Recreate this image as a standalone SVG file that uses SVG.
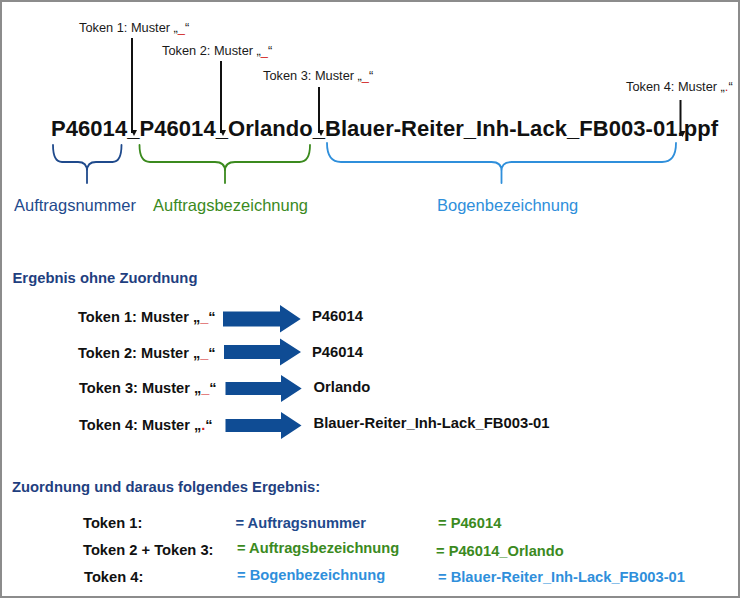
<svg xmlns="http://www.w3.org/2000/svg" width="742" height="600" viewBox="0 0 742 600">
<style>
  text { font-family: "Liberation Sans", Arial, sans-serif; }
  .lbl { font-size: 12.8px; fill: #1a1a1a; }
  .red { fill: #d02020; }
  .fn { font-size: 22px; font-weight: bold; fill: #111; }
  .cap { font-size: 16.5px; }
  .hdr { font-size: 14.8px; font-weight: bold; fill: #1f3f80; }
  .row { font-size: 14.6px; font-weight: bold; fill: #111; }
  .val { font-size: 14.8px; font-weight: bold; fill: #111; }
  .res { font-size: 14.7px; font-weight: bold; }
  .navy { fill: #1f4a8c; }
  .green { fill: #3b8a1e; }
  .lblue { fill: #2f8fdb; }
  .pin { stroke: #111; stroke-width: 2; fill: none; marker-end: url(#tip); }
  .brace { fill: none; stroke-width: 1.8; stroke-linecap: round; }
  .barrow { fill: #0f4c94; }
</style>
<defs>
  <marker id="tip" markerWidth="6" markerHeight="6" refX="3" refY="5" orient="auto-start-reverse" markerUnits="userSpaceOnUse" viewBox="0 0 6 6">
    <path d="M0,0 L6,0 L3,6 Z" fill="#111" transform="rotate(-90 3 3)"/>
  </marker>
  <clipPath id="frameclip"><rect x="0" y="0" width="738" height="600"/></clipPath>
</defs>
<rect x="0" y="0" width="742" height="600" fill="#ffffff"/>

<g id="content" clip-path="url(#frameclip)">
  <g id="filename">
    <text class="fn" x="51" y="136" textLength="667" lengthAdjust="spacing">P46014_P46014_Orlando_Blauer-Reiter_Inh-Lack_FB003-01.ppf</text>
  </g>

  <g id="token-labels">
    <text class="lbl" x="79" y="32">Token 1: Muster „<tspan class="red">_</tspan>“</text>
    <text class="lbl" x="162" y="55">Token 2: Muster „<tspan class="red">_</tspan>“</text>
    <text class="lbl" x="263" y="80">Token 3: Muster „<tspan class="red">_</tspan>“</text>
    <text class="lbl" x="626" y="91">Token 4: Muster „<tspan class="red">.</tspan>“</text>
  </g>

  <g id="connectors">
    <line class="pin" x1="132" y1="38" x2="132" y2="133"/>
    <line class="pin" x1="221" y1="61" x2="221" y2="133"/>
    <line class="pin" x1="319" y1="87" x2="319" y2="133"/>
    <line class="pin" x1="680.5" y1="100" x2="680.5" y2="134"/>
  </g>

  <g id="braces">
    <path class="brace" stroke="#1f4a8c" d="M53,145 Q53,162 62,162 H78 Q87,162 87,171 V183 M87,171 Q87,162 96,162 H112.5 Q121.5,162 121.5,145"/>
    <path class="brace" stroke="#3b8a1e" d="M139.5,145 Q139.5,162 150,162 H215 Q225,162 225,171 V183 M225,171 Q225,162 235,162 H299.5 Q310,162 310,145"/>
    <path class="brace" stroke="#2f8fdb" d="M327,143 Q327,162 341,162 H491.5 Q501.5,162 501.5,171 V183 M501.5,171 Q501.5,162 511.5,162 H662 Q676,162 676,143"/>
  </g>

  <g id="brace-labels">
    <text class="cap navy" x="14" y="211">Auftragsnummer</text>
    <text class="cap green" x="153" y="211">Auftragsbezeichnung</text>
    <text class="cap lblue" x="437" y="211">Bogenbezeichnung</text>
  </g>

  <g id="section-1">
    <text class="hdr" x="12.5" y="283">Ergebnis ohne Zuordnung</text>
    <g id="row1">
      <text class="row" x="78" y="321.7">Token 1: Muster „<tspan class="red">_</tspan>“</text>
      <path class="barrow" d="M223,311.5 H280 V305 L300.7,319 L280,332.5 V326.5 H223 Z"/>
      <text class="val" x="312" y="320.5">P46014</text>
    </g>
    <g id="row2">
      <text class="row" x="78" y="358">Token 2: Muster „<tspan class="red">_</tspan>“</text>
      <path class="barrow" d="M224,345 H280 V338.5 L301,352 L280,365.5 V359 H224 Z"/>
      <text class="val" x="312" y="356.7">P46014</text>
    </g>
    <g id="row3">
      <text class="row" x="79" y="393.3">Token 3: Muster „<tspan class="red">_</tspan>“</text>
      <path class="barrow" d="M225.5,382 H281 V375 L301.7,388.5 L281,402 V395 H225.5 Z"/>
      <text class="val" x="313.5" y="391.7">Orlando</text>
    </g>
    <g id="row4">
      <text class="row" x="79" y="430">Token 4: Muster „<tspan class="red">.</tspan>“</text>
      <path class="barrow" d="M225.5,419 H281 V412 L301.5,425.5 L281,439 V432 H225.5 Z"/>
      <text class="val" x="313.5" y="428.3">Blauer-Reiter_Inh-Lack_FB003-01</text>
    </g>
  </g>

  <g id="section-2">
    <text class="hdr" x="12" y="491.7">Zuordnung und daraus folgendes Ergebnis:</text>
    <g id="res1">
      <text class="res" x="83" y="528.3" fill="#111">Token 1:</text>
      <text class="res navy" x="235.5" y="528">= Auftragsnummer</text>
      <text class="res green" x="438" y="528">= P46014</text>
    </g>
    <g id="res2">
      <text class="res" x="83" y="555" fill="#111">Token 2 + Token 3:</text>
      <text class="res green" x="237" y="553.3">= Auftragsbezeichnung</text>
      <text class="res green" x="436" y="556">= P46014_Orlando</text>
    </g>
    <g id="res3">
      <text class="res" x="84" y="581.7" fill="#111">Token 4:</text>
      <text class="res lblue" x="237" y="580">= Bogenbezeichnung</text>
      <text class="res lblue" x="438" y="581.7">= Blauer-Reiter_Inh-Lack_FB003-01</text>
    </g>
  </g>
</g>

<rect id="frame" x="1" y="1" width="738" height="596" fill="none" stroke="#8c8c8c" stroke-width="2"/>
</svg>
